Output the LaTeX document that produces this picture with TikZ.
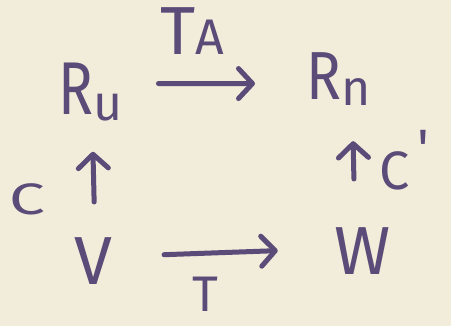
\documentclass[tikz,border=0pt]{standalone}
\usepackage{fontspec}
\setmainfont{Fira Sans}
\usetikzlibrary{arrows.meta}
\definecolor{ink}{HTML}{5A4B78}
\definecolor{paper}{HTML}{F2ECDA}
\begin{document}
\begin{tikzpicture}[x=1pt,y=1pt,
  lbl/.style={text=ink, inner sep=0pt, font=\fontsize{68}{68}\selectfont},
  arr/.style={draw=ink, line width=5pt, line cap=round,
    -{Straight Barb[length=14pt, width=30pt, line cap=round, line join=round]}}]
\fill[paper] (0,0) rectangle (451,326);
\useasboundingbox (0,0) rectangle (451,326);
% objects
\node[lbl, anchor=base west] (RL) at (58,211) {\scalebox{0.85}[1.1]{R}\raisebox{-6pt}{\fontsize{50}{50}\selectfont u}};
\node[lbl, anchor=base west] (RR) at (306,226) {\scalebox{0.85}[1]{R}\raisebox{-6pt}{\fontsize{50}{50}\selectfont n}};
\node[lbl, anchor=base] (V) at (93,41) {V};
\node[lbl, anchor=base] (W) at (363,51) {W};
% labels
\node[lbl, anchor=base west] (TA) at (160,271) {T{\fontsize{50}{50}\selectfont A}};
\node[lbl, anchor=base, font=\fontsize{50}{50}\selectfont] (T) at (205,14) {T};
\node[lbl, anchor=base, font=\fontsize{44}{44}\selectfont] (C) at (27,111) {\scalebox{1.45}[1]{C}};
\node[lbl, anchor=base west, font=\fontsize{54}{54}\selectfont] (Cp) at (379,136) {C\hspace{8pt}\raisebox{22pt}{\textquotesingle}};
% connectors
\draw[arr, shorten <=36pt, shorten >=51pt] ([yshift=9pt]RL.east) -- ([yshift=-4pt]RR.west);
\draw[arr, shorten <=52pt, shorten >=57pt] ([yshift=5pt]V.east) -- ([yshift=3pt]W.west);
\draw[arr, shorten <=36pt, shorten >=30pt] ([xshift=2pt]V.north) -- ([xshift=2pt]RL.south);
\draw[arr, shorten <=49pt, shorten >=35pt] ([xshift=-8pt]W.north) -- ([xshift=14pt]RR.south);
\end{tikzpicture}
\end{document}
